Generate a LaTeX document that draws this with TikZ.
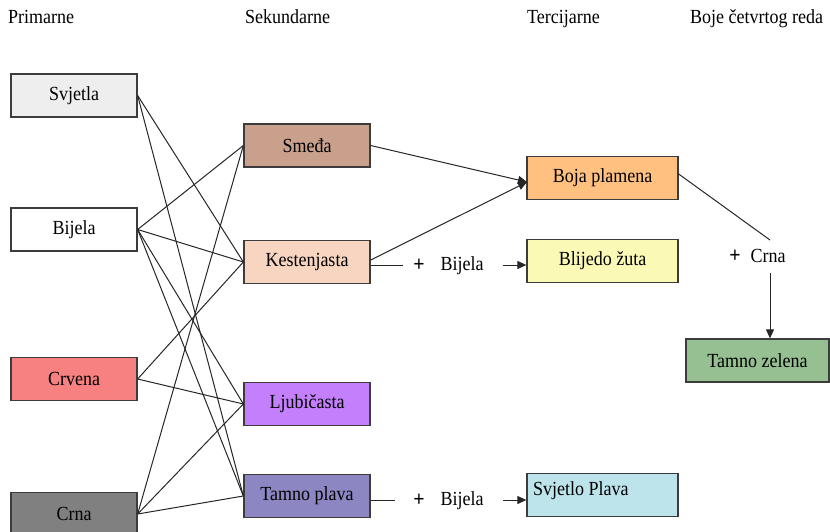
\documentclass[tikz,border=0pt]{standalone}
\usepackage{fontspec}
\setmainfont{Liberation Serif}
\newfontfamily\tnr[FakeStretch=0.9]{Liberation Serif}
\usetikzlibrary{arrows.meta}
\definecolor{cSvj}{RGB}{238,238,238}
\definecolor{cCrv}{RGB}{247,128,128}
\definecolor{cCrna}{RGB}{128,128,128}
\definecolor{cSme}{RGB}{200,160,140}
\definecolor{cKes}{RGB}{248,213,192}
\definecolor{cLju}{RGB}{196,128,252}
\definecolor{cTpl}{RGB}{140,135,195}
\definecolor{cBoj}{RGB}{255,192,128}
\definecolor{cBli}{RGB}{250,250,182}
\definecolor{cSpl}{RGB}{190,228,235}
\definecolor{cTze}{RGB}{150,192,145}
\definecolor{cEdge}{RGB}{60,60,60}
\tikzset{
  box/.style={draw=cEdge, line width=1.3pt, minimum height=43pt, inner sep=0pt,
    font=\tnr\fontsize{20}{22}\selectfont},
  pbox/.style={box, minimum width=126pt},
  tbox/.style={box, minimum width=151pt},
  head/.style={anchor=base west, inner sep=0pt, font=\tnr\fontsize{20}{22}\selectfont},
  lbl/.style={inner sep=0pt, font=\tnr\fontsize{20}{22}\selectfont},
  plus/.style={inner sep=0pt, font=\tnr\bfseries\fontsize{22}{24}\selectfont},
  conn/.style={draw=black!85, line width=1pt},
  arr/.style={conn, -{Triangle[length=9pt,width=8pt]}}
}
\begin{document}
\begin{tikzpicture}[x=1pt,y=-1pt]
\useasboundingbox (0,0) rectangle (830,531);
% headers
\node[head] (hP) at (8,23) {Primarne};
\node[head] (hS) at (245,23) {Sekundarne};
\node[head] (hT) at (527,23) {Tercijarne};
\node[head] (hB) at (690,23) {Boje četvrtog reda};
% primary
\node[pbox, fill=cSvj] (svj) at (74,95.5) {Svjetla};
\node[pbox, fill=white] (bij) at (74,229.5) {Bijela};
\node[pbox, fill=cCrv] (crv) at (74,379) {Crvena};
\node[pbox, fill=cCrna] (crn) at (74,514) {Crna};
% secondary
\node[pbox, fill=cSme] (sme) at (307,145.5) {Smeđa};
\node[pbox, fill=cKes] (kes) at (307,262) {Kestenjasta};
\node[pbox, fill=cLju] (lju) at (307,404) {Ljubičasta};
\node[pbox, fill=cTpl] (tpl) at (307,496) {Tamno plava};
% tertiary
\node[tbox, fill=cBoj] (boj) at (602.5,178) {Boja plamena};
\node[tbox, fill=cBli] (bli) at (602.5,261) {Blijedo žuta};
\node[tbox, fill=cSpl] (spl) at (602.5,495) {};
\node[lbl, anchor=west] (splt) at (533,491) {Svjetlo Plava};
% fourth
\node[box, minimum width=143pt, fill=cTze] (tze) at (757.5,360.5) {Tamno zelena};
% primary -> secondary connectors
\draw[conn] (svj.east) -- (kes.west);
\draw[conn] (svj.east) -- (tpl.west);
\draw[conn] (bij.east) -- (sme.west);
\draw[conn] (bij.east) -- (kes.west);
\draw[conn] (bij.east) -- (lju.west);
\draw[conn] (bij.east) -- (tpl.west);
\draw[conn] (crv.east) -- (kes.west);
\draw[conn] (crv.east) -- (lju.west);
\draw[conn] (crn.east) -- (sme.west);
\draw[conn] (crn.east) -- (lju.west);
\draw[conn] (crn.east) -- (tpl.west);
% secondary -> tertiary
\coordinate (bojin) at (527,182);
\draw[arr] (sme.east) -- (bojin);
\draw[arr] ([yshift=2pt]kes.east) -- (bojin);
% + Bijela (Kestenjasta)
\node[plus] (p1) at (419,265) {+};
\node[lbl] (b1) at (462,266) {Bijela};
\coordinate (k1e) at (403,265);
\draw[conn] (kes.east |- k1e) -- (k1e);
\coordinate (k1s) at (503,265);
\draw[arr] (k1s) -- (bli.west |- k1s);
% + Bijela (Tamno plava)
\node[plus] (p2) at (419,500) {+};
\node[lbl] (b2) at (462,501) {Bijela};
\coordinate (t1e) at (395,500);
\draw[conn] (tpl.east |- t1e) -- (t1e);
\coordinate (t2s) at (503,500);
\draw[arr] (t2s) -- (spl.west |- t2s);
% + Crna
\coordinate (cr1) at (770,240);
\draw[conn] ([yshift=4pt]boj.east) -- (cr1);
\node[plus] (p3) at (735,256) {+};
\node[lbl] (c3) at (768,256) {Crna};
\coordinate (cr2) at (770,273);
\draw[arr] (cr2) -- (tze.north -| cr2);
\end{tikzpicture}
\end{document}
